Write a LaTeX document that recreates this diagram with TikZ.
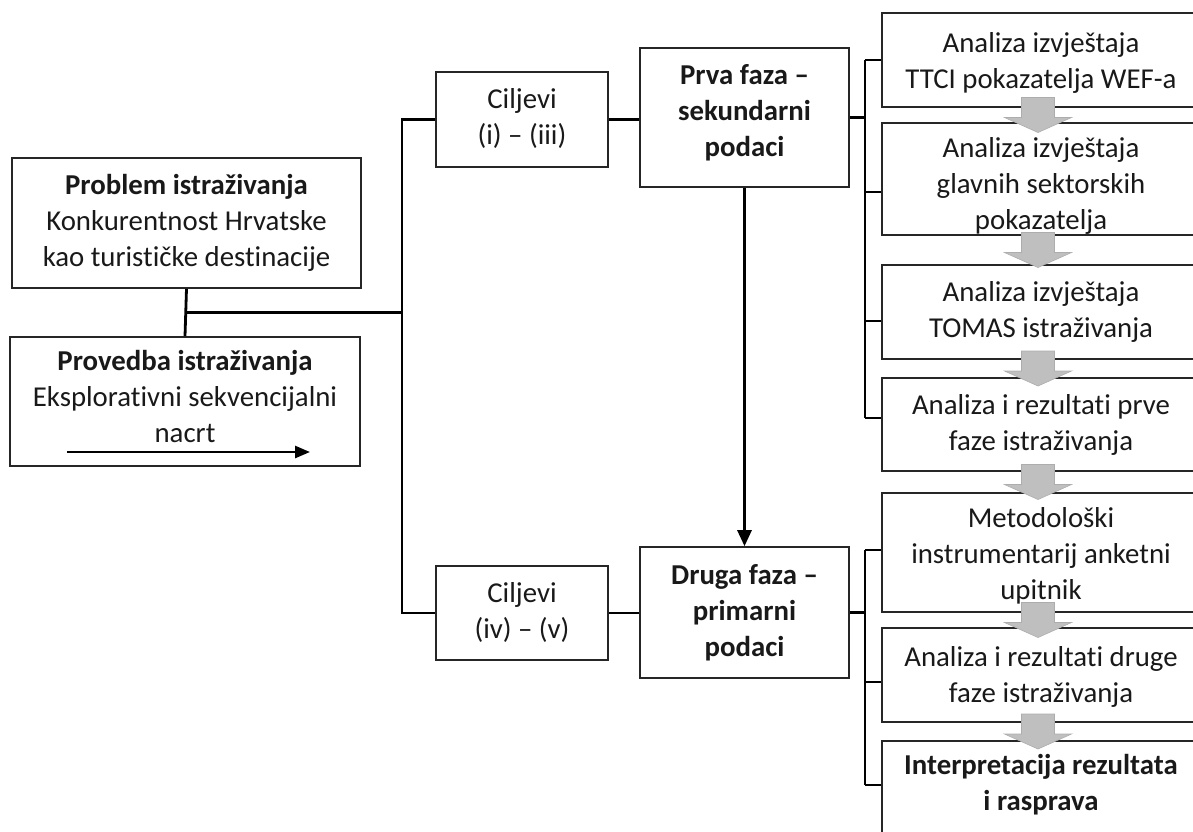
\documentclass[tikz,border=0pt]{standalone}
\usepackage{fontspec}
\setmainfont[Ligatures=NoCommon]{Carlito}
\usetikzlibrary{arrows.meta,fit,calc}
\begin{document}
\begin{tikzpicture}[x=0.5pt,y=-0.5pt,
  box/.style={draw=black!85, line width=0.8pt, inner sep=0pt},
  txt/.style={align=center, inner sep=0pt, text=black!90, font=\fontsize{14.4}{18}\selectfont},
  conn/.style={line width=1.4pt, black},
  tip/.style={-{Triangle[width=7pt,length=8pt]}},
  garrow/.style={fill=black!25, draw=black!32, line width=0.3pt}]
\useasboundingbox (0,0) rectangle (1193,831);
\clip (0,0) rectangle (1193,831);
\fill[white] (0,0) rectangle (1193,831);

% left boxes
\node[box, fit={(12,158)(361,288)}] (prob) {};
\node[txt] (probt) at (prob.center) {\textbf{Problem istraživanja}\\Konkurentnost Hrvatske\\kao turističke destinacije};
\node[box, fit={(10,337)(360,466)}] (prov) {};
\node[txt] (provt) at (185,396) {\textbf{Provedba istraživanja}\\Eksplorativni sekvencijalni\\nacrt};
\coordinate (pa1) at (67,452);
\coordinate (pa2) at (310,452);

% goals
\node[box, fit={(436,72)(608,167)}] (c1) {};
\node[txt] (c1t) at ([yshift=0.5pt]c1.center) {Ciljevi\\(i) – (iii)};
\node[box, fit={(436,566)(608,660)}] (c2) {};
\node[txt] (c2t) at ([yshift=0.5pt]c2.center) {Ciljevi\\(iv) – (v)};

% phases
\node[box, fit={(640,48)(849,187)}] (prva) {};
\node[txt] (prvat) at ([yshift=2.5pt]prva.center) {\textbf{Prva faza –}\\\textbf{sekundarni}\\\textbf{podaci}};
\node[box, fit={(640,547)(849,678)}] (druga) {};
\node[txt] (drugat) at (druga.center) {\textbf{Druga faza –}\\\textbf{primarni}\\\textbf{podaci}};

% right boxes
\node[box, fit={(882,13)(1200,107)}] (r1) {};
\node[box, fit={(882,123)(1200,235)}] (r2) {};
\node[box, fit={(882,265)(1200,359)}] (r3) {};
\node[box, fit={(882,378)(1200,471)}] (r4) {};
\node[box, fit={(882,493)(1200,612)}] (r5) {};
\node[box, fit={(882,628)(1200,722)}] (r6) {};
\node[box, fit={(882,741)(1200,845)}] (r7) {};
\node[txt] (r1t) at ([yshift=-1.5pt]r1.center) {Analiza izvještaja\\TTCI pokazatelja WEF-a};
\node[txt] (r2t) at ([yshift=-3.5pt]r2.center) {Analiza izvještaja\\glavnih sektorskih\\pokazatelja};
\node[txt] (r3t) at (r3.center) {Analiza izvještaja\\TOMAS istraživanja};
\node[txt] (r4t) at (r4.center) {Analiza i rezultati prve\\faze istraživanja};
\node[txt] (r5t) at ([yshift=-1.5pt]r5.center) {Metodološki\\instrumentarij anketni\\upitnik};
\node[txt] (r6t) at ([yshift=-1pt]r6.center) {Analiza i rezultati druge\\faze istraživanja};
\node[txt] (r7t) at (1041,784.5) {\textbf{Interpretacija rezultata}\\\textbf{i rasprava}};

% left connectors
\coordinate (trunk) at (402,0);
\coordinate (jn) at ($(prob.south)!0.5!(prov.north)$);
\draw[conn] (prob.south) -- (prov.north);
\draw[conn] (jn) -- (jn -| trunk);
\draw[conn] (c1.west) -- (c1.west -| trunk) |- (c2.west);
\draw[conn] (c1.east) -- (c1.east -| prva.west);
\draw[conn] (c2.east) -- (c2.east -| druga.west);
\draw[conn, line width=1.3pt, -{Triangle[width=6pt,length=7.5pt]}] (pa1) -- (pa2);
\draw[conn, tip] (prva.south) -- (druga.north);

% right brackets
\coordinate (rb) at (865,0);
\coordinate (k1) at (865,60);
\coordinate (k2) at (865,192);
\coordinate (k3) at (865,321);
\coordinate (k4) at (865,418);
\coordinate (k5) at (865,550);
\coordinate (k6) at (865,682);
\coordinate (k7) at (865,785);
\draw[conn] (prva.east) -- (prva.east -| rb);
\draw[conn] (druga.east) -- (druga.east -| rb);
\draw[conn] (k1) -- (k4);
\draw[conn] (k5) -- (k7);
\draw[conn] (k1) -- (k1 -| r1.west);
\draw[conn] (k2) -- (k2 -| r2.west);
\draw[conn] (k3) -- (k3 -| r3.west);
\draw[conn] (k4) -- (k4 -| r4.west);
\draw[conn] (k5) -- (k5 -| r5.west);
\draw[conn] (k6) -- (k6 -| r6.west);
\draw[conn] (k7) -- (k7 -| r7.west);

% grey block arrows, centred in the gaps
\foreach \a/\b in {r1/r2,r2/r3,r3/r4,r4/r5,r5/r6,r6/r7}{
  \coordinate (gm) at ($(\a.south)!0.5!(\b.north)$);
  \filldraw[garrow] ([xshift=-1.5pt]gm) ++(-16.5,-17.5) -- ++(33,0) -- ++(0,20)
    -- ++(17,0) -- ++(-33.5,15) -- ++(-33.5,-15) -- ++(17,0) -- cycle;
}
\end{tikzpicture}
\end{document}
